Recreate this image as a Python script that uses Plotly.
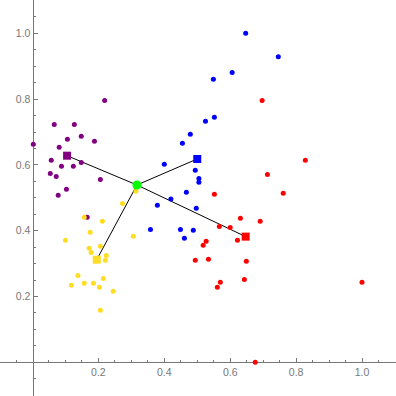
import plotly.graph_objects as go

# ---- data ----
purple_x = [0.0025, 0.219, 0.066, 0.127, 0.148, 0.188, 0.106, 0.081, 0.057, 0.088, 0.124, 0.148, 0.054, 0.072, 0.206, 0.103, 0.078, 0.166]
purple_y = [0.663, 0.796, 0.723, 0.723, 0.687, 0.672, 0.678, 0.654, 0.614, 0.596, 0.596, 0.607, 0.574, 0.565, 0.556, 0.526, 0.508, 0.441]

blue_x = [0.647, 0.746, 0.606, 0.549, 0.552, 0.525, 0.479, 0.455, 0.400, 0.494, 0.505, 0.505, 0.467, 0.420, 0.379, 0.497, 0.358, 0.449, 0.488, 0.461]
blue_y = [1.000, 0.929, 0.881, 0.860, 0.745, 0.733, 0.693, 0.666, 0.602, 0.584, 0.559, 0.547, 0.517, 0.496, 0.477, 0.468, 0.404, 0.404, 0.401, 0.377]

yellow_x = [0.314, 0.273, 0.157, 0.212, 0.175, 0.100, 0.306, 0.206, 0.172, 0.178, 0.224, 0.221, 0.138, 0.215, 0.118, 0.157, 0.185, 0.203, 0.245, 0.206]
yellow_y = [0.520, 0.483, 0.441, 0.429, 0.395, 0.371, 0.383, 0.353, 0.347, 0.334, 0.325, 0.310, 0.264, 0.255, 0.234, 0.240, 0.240, 0.228, 0.216, 0.158]

red_x = [0.697, 0.828, 0.713, 0.552, 0.761, 0.631, 0.691, 0.567, 0.600, 0.622, 0.527, 0.518, 0.534, 0.649, 0.643, 0.570, 0.561, 1.000, 0.676, 0.494]
red_y = [0.796, 0.614, 0.571, 0.511, 0.514, 0.438, 0.429, 0.413, 0.410, 0.371, 0.368, 0.356, 0.313, 0.307, 0.252, 0.243, 0.228, 0.243, 0.000, 0.310]

# cluster centres (squares) and the overall centre (green)
centre_names = ["purple", "blue", "yellow", "red"]
centre_x = [0.105, 0.500, 0.195, 0.647]
centre_y = [0.628, 0.618, 0.312, 0.382]
hub_x = 0.317
hub_y = 0.539

colors = {"purple": "#800080", "blue": "#0000FF", "yellow": "#FFDD22", "red": "#FF0000"}

major_ticks = [0.2, 0.4, 0.6, 0.8, 1.0]
minor_ticks = [round(-0.05 + 0.05 * i, 2) for i in range(23)]
minor_ticks = [v for v in minor_ticks if abs(v) > 1e-9 and round(v / 0.2, 6) % 1 != 0]

fig = go.Figure()

# lines from hub to centres
for cx, cy in zip(centre_x, centre_y):
    fig.add_trace(go.Scatter(x=[hub_x, cx], y=[hub_y, cy], mode="lines",
                             line=dict(color="black", width=1), hoverinfo="skip"))

for name, xs, ys in [("purple", purple_x, purple_y), ("blue", blue_x, blue_y),
                     ("yellow", yellow_x, yellow_y), ("red", red_x, red_y)]:
    fig.add_trace(go.Scatter(x=xs, y=ys, mode="markers",
                             marker=dict(color=colors[name], size=5, line=dict(width=0))))

fig.add_trace(go.Scatter(x=centre_x, y=centre_y, mode="markers",
                         marker=dict(symbol="square", size=8,
                                     color=[colors[n] for n in centre_names], line=dict(width=0))))
fig.add_trace(go.Scatter(x=[hub_x], y=[hub_y], mode="markers",
                         marker=dict(color="#00FF00", size=9, line=dict(width=0))))

axis_common = dict(
    showgrid=False, zeroline=False, showline=True, linecolor="#777777", linewidth=1,
    ticks="inside", ticklen=4, tickwidth=1, tickcolor="#777777",
    tickmode="array", tickvals=major_ticks, ticktext=[f"{v:.1f}" for v in major_ticks],
    tickfont=dict(family="Liberation Sans, Arial, sans-serif", size=10.5, color="#777777"),
    minor=dict(tickmode="array", tickvals=minor_ticks, ticks="inside", ticklen=2.5,
               tickcolor="#777777", tickwidth=1, showgrid=False),
    layer="below traces", fixedrange=True,
)

fig.update_layout(
    width=396, height=396, margin=dict(l=0, r=0, t=0, b=0),
    paper_bgcolor="white", plot_bgcolor="white", showlegend=False,
    xaxis=dict(range=[-0.0986, 1.1032], anchor="free", position=0.0851, **axis_common),
    yaxis=dict(range=[-0.1024, 1.1012], anchor="free", position=0.0821, **axis_common),
)

fig.write_html("out.html", config={"displayModeBar": False},
               post_script="document.body.style.margin='0';")
